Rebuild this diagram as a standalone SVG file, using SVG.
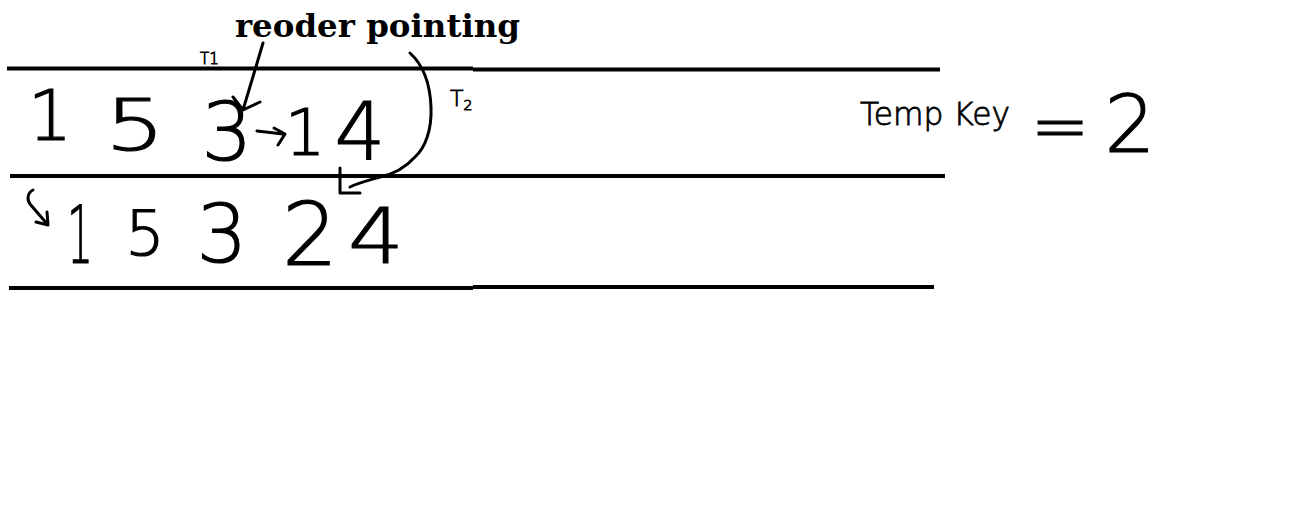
<svg xmlns="http://www.w3.org/2000/svg" width="1304" height="526" viewBox="0 0 1304 526">
<style>
.rule{stroke:#000;stroke-width:4;fill:none}
.hand{stroke:#000;stroke-width:3;fill:none;stroke-linecap:round;stroke-linejoin:round}
.dig{font-family:"DejaVu Sans",sans-serif;font-weight:200;fill:#000;stroke:#000;stroke-width:1.2;text-anchor:middle}
.small{font-family:"DejaVu Sans",sans-serif;font-weight:200;fill:#000;stroke:#000;stroke-width:0.8}
.title{font-family:"DejaVu Serif","Liberation Serif",serif;font-weight:bold;fill:#000}
</style>
<rect width="1304" height="526" fill="#fff"/>
<g id="rules">
<path class="rule" d="M7 68.5H473M473 69.5H940"/>
<path class="rule" d="M10 176H945"/>
<path class="rule" d="M9 288H473M473 287H934"/>
</g>
<g id="title"><text class="title" x="235" y="37" font-size="31" textLength="285" lengthAdjust="spacingAndGlyphs">reoder pointing</text></g>
<g id="row1">
<text class="dig" x="50" y="140" font-size="70">1</text>
<text class="dig" x="135" y="150" font-size="72" textLength="60" lengthAdjust="spacingAndGlyphs">5</text>
<text class="dig" x="227" y="160" font-size="80">3</text>
<text class="dig" x="305" y="155" font-size="64">1</text>
<text class="dig" x="360" y="160" font-size="80">4</text>
</g>
<g id="row2">
<text class="dig" x="80" y="263" font-size="80" textLength="26" lengthAdjust="spacingAndGlyphs">1</text>
<text class="dig" x="145" y="255" font-size="62">5</text>
<text class="dig" x="222" y="262" font-size="80">3</text>
<text class="dig" x="310" y="265" font-size="88">2</text>
<text class="dig" x="376" y="263" font-size="76" textLength="56" lengthAdjust="spacingAndGlyphs">4</text>
</g>
<g id="labels">
<text class="small" x="200" y="64" font-size="15">T1</text>
<text class="small" x="450" y="106" font-size="22">T<tspan font-size="14" dy="4">2</tspan></text>
<text class="small" x="860" y="125" font-size="32" textLength="150" lengthAdjust="spacingAndGlyphs">Temp Key</text>
<text class="dig" x="1060" y="150" font-size="70">=</text>
<text class="dig" x="1130" y="152" font-size="80">2</text>
</g>
<g id="connectors">
<path class="hand" d="M263 43L243 110M233 97L243 110L260 102"/>
<path class="hand" d="M257 131L283 134M274 128L285 134L278 145"/>
<path class="hand" d="M410 53C422 64 430 80 431 107C432 130 425 148 415 157C405 168 395 174 380 177C370 180 358 183 350 187M340 168V193H360"/>
<path class="hand" d="M33 190C27 193 27 200 30 204L48 225M36 222L48 225L47 212"/>
</g>
</svg>
